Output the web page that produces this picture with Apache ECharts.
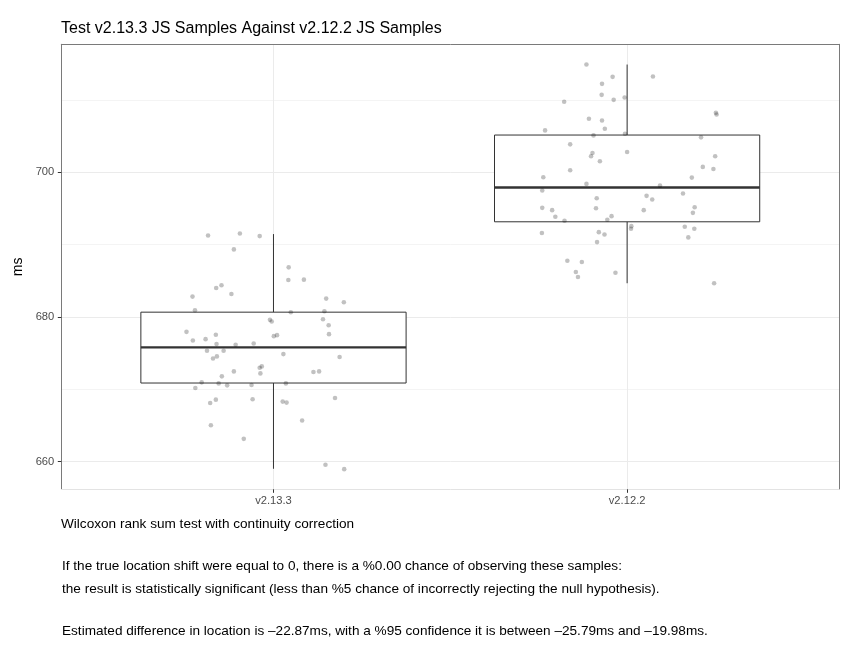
<!DOCTYPE html>
<html>
<head>
<meta charset="utf-8">
<script src="https://cdn.jsdelivr.net/npm/echarts@6/dist/echarts.min.js"></script>
<style>
  body { margin: 0; background: #fff; }
  #chart { width: 857px; height: 662px; }
</style>
</head>
<body>
<div id="chart"></div>
<script>
// categories on the x axis (positions 1 and 2)
var categories = ['v2.13.3', 'v2.12.2'];
// box stats: [min, Q1, median, Q3, max]
var boxStats = [
  [658.99, 670.85, 675.77, 680.65, 691.45],
  [684.65, 693.15, 697.89, 705.15, 714.90]
];
// jittered samples, v2.13.3
var jitterX13 = [0.815,0.905,0.961,0.888,1.043,1.042,1.086,0.838,0.853,0.881,0.771,1.149,1.199,0.778,1.049,1.144,0.990,0.995,1.140,1.156,
  0.754,0.837,0.772,0.808,1.001,1.010,1.157,0.839,0.893,0.944,0.812,0.859,0.829,0.840,1.028,1.187,0.961,0.967,0.888,0.963,
  1.113,1.129,0.854,0.797,0.845,0.779,0.869,0.938,1.035,0.837,0.821,0.941,1.026,1.037,1.174,1.081,0.823,0.916,1.147,1.200];
var samples13 = [691.26,691.54,691.17,689.33,686.85,685.10,685.15,684.00,684.37,683.17,682.80,682.53,682.02,680.92,680.64,680.78,679.59,679.36,679.68,678.85,
  677.93,677.52,676.74,676.92,677.33,677.47,677.61,676.23,676.14,676.32,675.31,675.31,674.25,674.53,674.85,674.44,672.97,673.15,672.46,672.18,
  672.37,672.46,671.77,670.94,670.80,670.16,670.53,670.57,670.80,668.55,668.09,668.60,668.28,668.14,668.78,665.66,665.01,663.13,659.54,658.94];
// jittered samples, v2.12.2
var jitterX12 = [1.885,1.959,2.073,1.929,1.928,1.962,1.993,1.822,2.251,2.253,1.892,1.929,1.937,1.768,1.905,1.994,2.209,1.839,1.902,1.898,
  2.000,1.923,2.249,2.214,2.244,1.839,1.763,2.183,1.885,2.093,1.760,2.158,2.055,2.071,1.914,1.760,1.912,1.788,2.191,2.047,
  2.186,1.797,1.823,1.944,1.956,2.012,2.011,2.163,2.190,1.759,1.920,1.936,2.173,1.915,1.831,1.872,1.855,1.861,1.967,2.246];
var samples12 = [714.90,713.20,713.24,712.23,710.71,710.02,710.34,709.75,708.23,708.00,707.40,707.17,706.02,705.79,705.10,705.33,704.83,703.86,702.67,702.21,
  702.80,701.52,702.21,700.74,700.46,700.28,699.31,699.26,698.39,698.16,697.47,697.06,696.74,696.23,696.41,695.08,695.03,694.76,695.17,694.76,
  694.39,693.84,693.29,693.43,693.93,692.55,692.18,692.46,692.18,691.59,691.72,691.40,690.99,690.34,687.77,687.59,686.21,685.52,686.11,684.64];
var yTicks = [660, 680, 700];
var yMinorTicks = [670, 690, 710];
var xTicks = [1, 2];

var FONT = '"Liberation Sans", Arial, Helvetica, sans-serif';

function zip(xs, ys) {
  var out = [];
  for (var i = 0; i < xs.length; i++) out.push([xs[i], ys[i]]);
  return out;
}

var boxData = boxStats.map(function (s, i) { return [i + 1].concat(s); });

function renderBox(params, api) {
  var x = api.value(0);
  var half = api.size([0.75, 0])[0] / 2;
  var pMin = api.coord([x, api.value(1)]);
  var pQ1 = api.coord([x, api.value(2)]);
  var pMed = api.coord([x, api.value(3)]);
  var pQ3 = api.coord([x, api.value(4)]);
  var pMax = api.coord([x, api.value(5)]);
  var ls = { stroke: '#333', lineWidth: 1 };
  return {
    type: 'group',
    children: [
      { type: 'line', shape: { x1: pMax[0], y1: pMax[1], x2: pQ3[0], y2: pQ3[1] }, style: ls },
      { type: 'line', shape: { x1: pQ1[0], y1: pQ1[1], x2: pMin[0], y2: pMin[1] }, style: ls },
      { type: 'rect', shape: { x: pQ3[0] - half, y: pQ3[1], width: half * 2, height: pQ1[1] - pQ3[1] },
        style: { fill: '#fff', stroke: '#333', lineWidth: 1 } },
      { type: 'line', shape: { x1: pMed[0] - half, y1: pMed[1], x2: pMed[0] + half, y2: pMed[1] },
        style: { stroke: '#333', lineWidth: 2.3 } }
    ]
  };
}

var chart = echarts.init(document.getElementById('chart'));
var yMin = 656.15, yMax = 717.7;
var bodyFont = '13.6px ' + FONT;

chart.setOption({
  animation: false,
  backgroundColor: '#fff',
  title: {
    text: 'Test v2.13.3 JS Samples Against v2.12.2 JS Samples',
    left: 56, top: 16,
    textStyle: { fontSize: 16, fontWeight: 'normal', color: '#000', fontFamily: FONT }
  },
  grid: { left: 61.3, top: 44.3, right: 17.7, bottom: 172.7 },
  xAxis: [{
    type: 'value', min: 0.4, max: 2.6, position: 'bottom',
    axisLine: { show: true, lineStyle: { color: '#e3e3e3', width: 1 } },
    axisTick: { show: true, customValues: xTicks, length: 3.5, lineStyle: { color: '#333' } },
    axisLabel: {
      customValues: xTicks, margin: 6, color: '#4d4d4d', fontSize: 11.2, fontFamily: FONT,
      formatter: function (v) { return categories[Math.round(v) - 1]; }
    },
    splitLine: { show: true, lineStyle: { color: '#ebebeb', width: 1 } }
  }, {
    type: 'value', min: 0.4, max: 2.6, position: 'top',
    axisLine: { show: true, lineStyle: { color: '#7a7a7a', width: 1 } },
    axisTick: { show: false }, axisLabel: { show: false }, splitLine: { show: false }
  }],
  yAxis: [{
    type: 'value', min: yMin, max: yMax, position: 'left',
    name: 'ms', nameLocation: 'middle', nameRotate: 90, nameGap: 30,
    nameTextStyle: { fontSize: 14, color: '#000', fontFamily: FONT },
    axisLine: { show: true, lineStyle: { color: '#7a7a7a', width: 1 } },
    axisTick: { show: true, customValues: yTicks, length: 3.5, lineStyle: { color: '#333' } },
    axisLabel: { customValues: yTicks, margin: 7, color: '#4d4d4d', fontSize: 11.2, fontFamily: FONT },
    splitLine: { show: true, lineStyle: { color: '#ebebeb', width: 1 } }
  }, {
    type: 'value', min: yMin, max: yMax, position: 'right',
    axisLine: { show: true, lineStyle: { color: '#7a7a7a', width: 1 } },
    axisTick: { show: false, customValues: yMinorTicks },
    axisLabel: { show: false, customValues: yMinorTicks },
    splitLine: { show: true, lineStyle: { color: '#f4f4f4', width: 1 } }
  }],
  series: [{
    type: 'custom', xAxisIndex: 0, yAxisIndex: 0, z: 2,
    renderItem: renderBox,
    encode: { x: 0, y: [1, 2, 3, 4, 5] },
    data: boxData
  }, {
    type: 'scatter', xAxisIndex: 0, yAxisIndex: 0, z: 3,
    symbolSize: 4.6,
    itemStyle: { color: 'rgba(0,0,0,0.3)' },
    data: zip(jitterX13, samples13)
  }, {
    type: 'scatter', xAxisIndex: 0, yAxisIndex: 0, z: 3,
    symbolSize: 4.6,
    itemStyle: { color: 'rgba(0,0,0,0.3)' },
    data: zip(jitterX12, samples12)
  }],
  graphic: [
    { type: 'text', left: 61, top: 517.5, style: { text: 'Wilcoxon rank sum test with continuity correction', font: bodyFont, fill: '#000' } },
    { type: 'text', left: 62, top: 559.5, style: { text: 'If the true location shift were equal to 0, there is a %0.00 chance of observing these samples:', font: bodyFont, fill: '#000' } },
    { type: 'text', left: 62, top: 582, style: { text: 'the result is statistically significant (less than %5 chance of incorrectly rejecting the null hypothesis).', font: bodyFont, fill: '#000' } },
    { type: 'text', left: 62, top: 624.5, style: { text: 'Estimated difference in location is \u201322.87ms, with a %95 confidence it is between \u201325.79ms and \u201319.98ms.', font: bodyFont, fill: '#000' } }
  ]
});
</script>
</body>
</html>
